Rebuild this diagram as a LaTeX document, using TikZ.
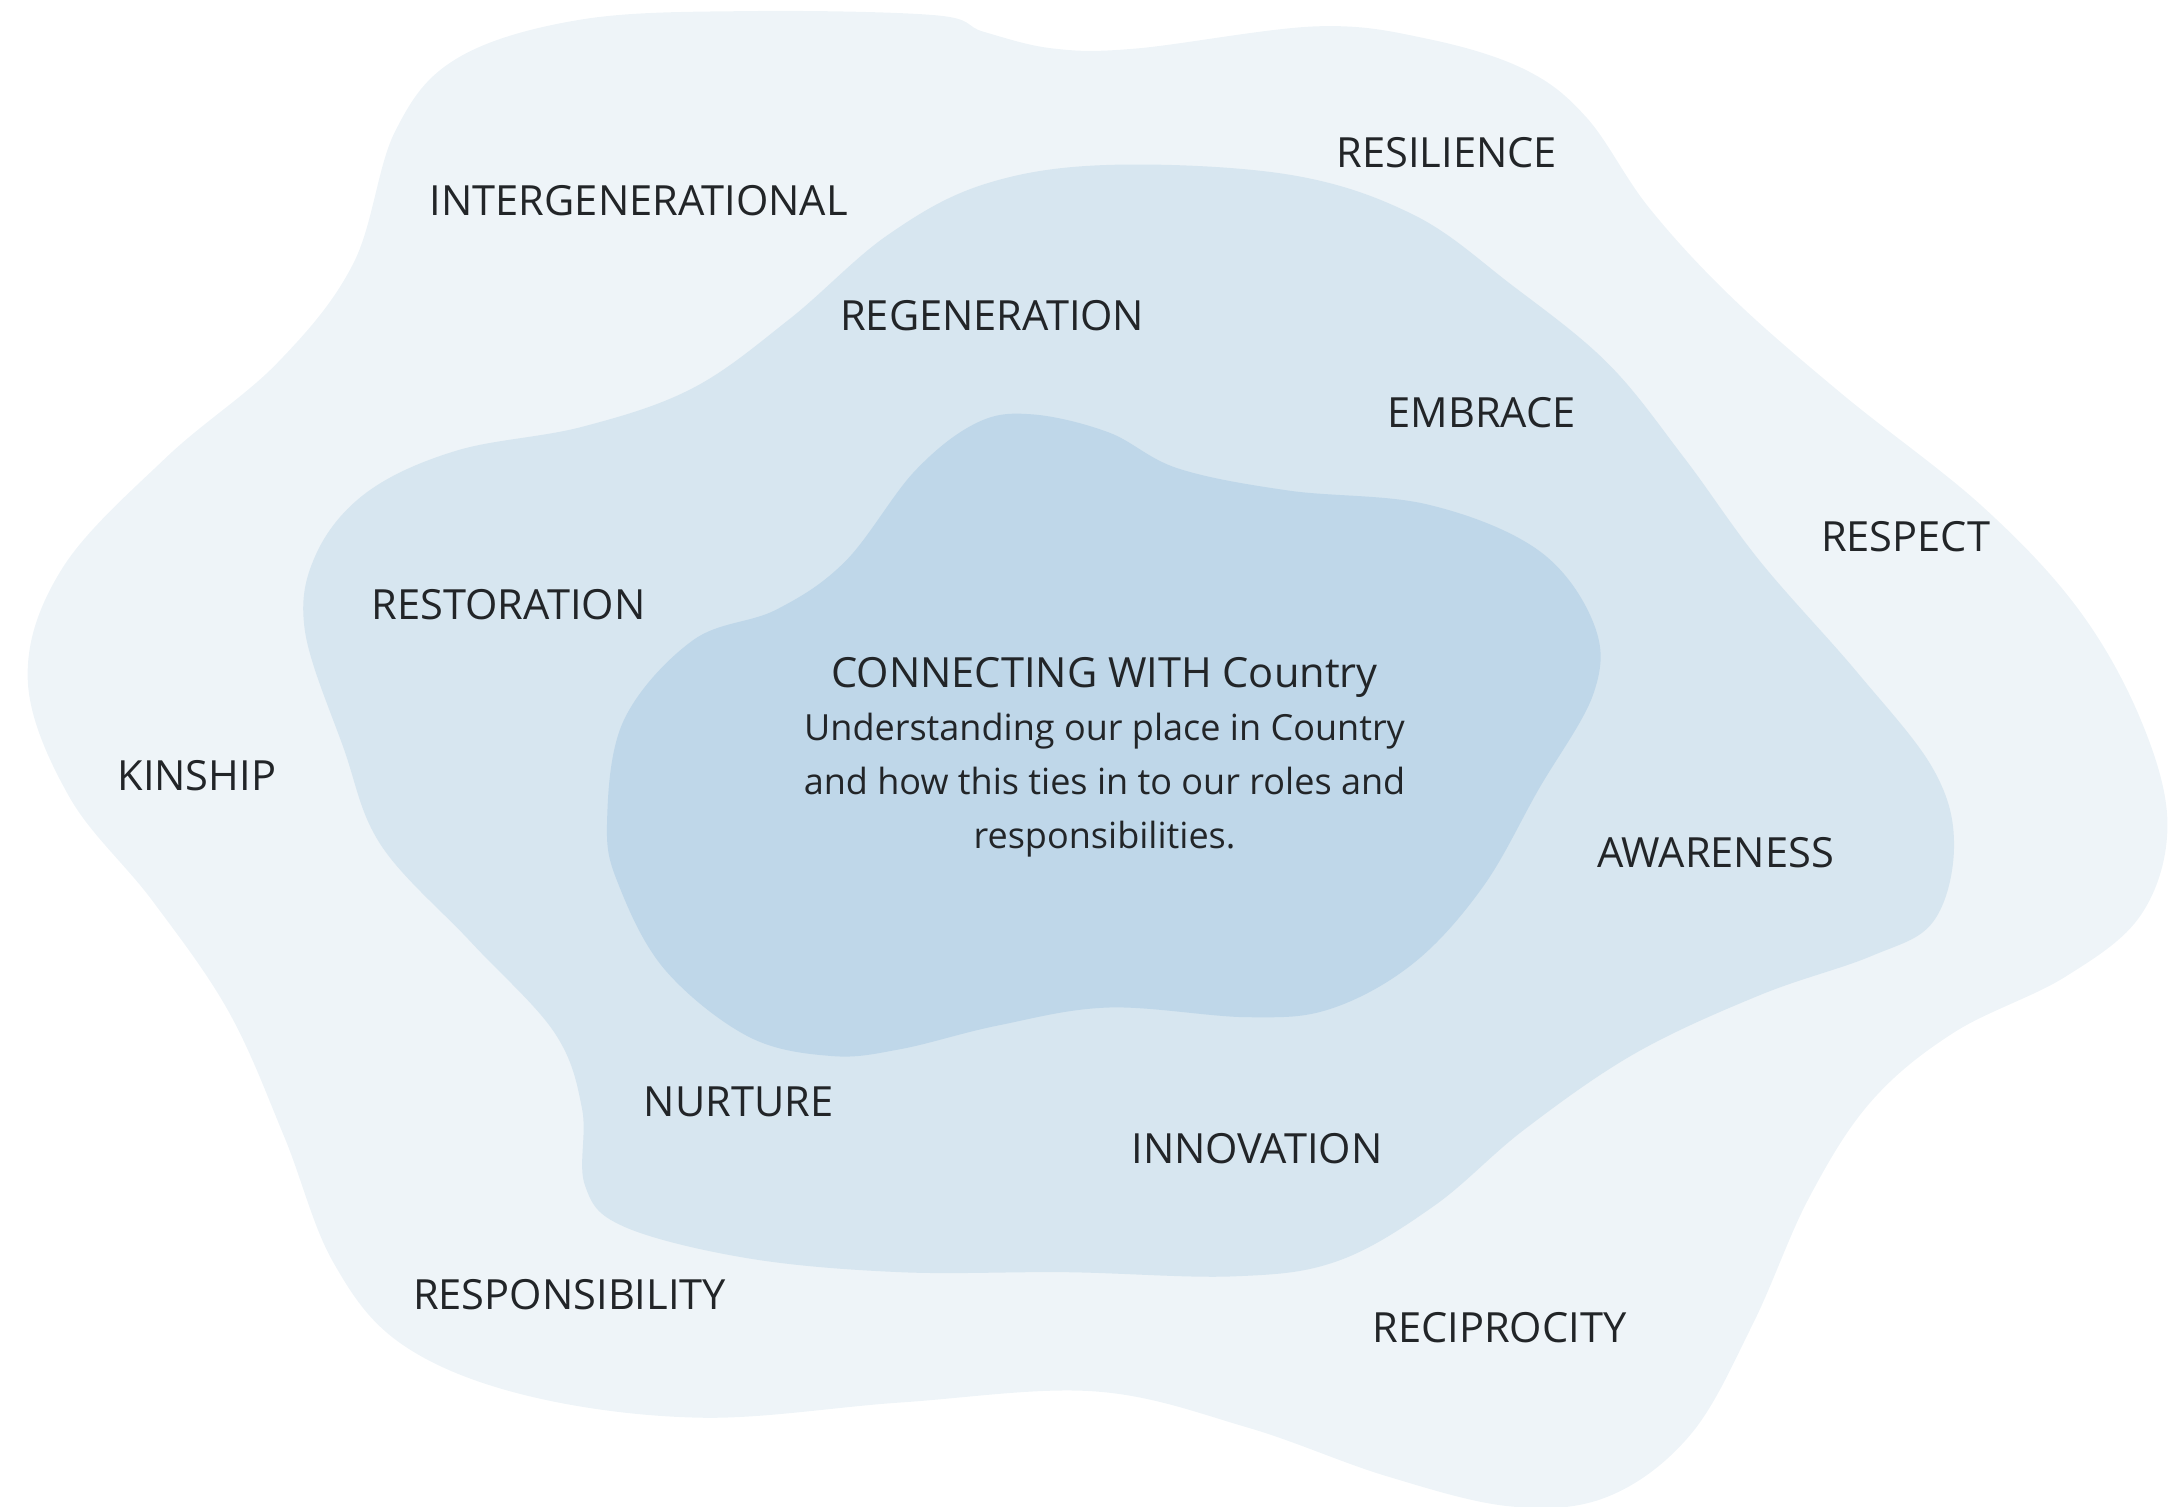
\documentclass[tikz,border=0pt]{standalone}
\usepackage{fontspec}
\setmainfont{Open Sans}
\usepackage{tikz}

\definecolor{outerblue}{RGB}{238,244,248}
\definecolor{midblue}{RGB}{215,230,240}
\definecolor{innerblue}{RGB}{191,215,233}
\definecolor{labelgrey}{RGB}{34,37,40}

\tikzset{
  value/.style={inner sep=0.75pt, text=labelgrey, font=\fontsize{12}{14}\selectfont},
}

\begin{document}
\begin{tikzpicture}[x=0.4pt,y=0.4pt,yscale=-1,xscale=1]
\useasboundingbox (0,0) rectangle (1568,1087);

%Shape: Outer blob
\fill [outerblue] plot [smooth cycle, tension=0.6] coordinates {(20,490) (45,410) (120,330) (200,262) (255,190) (285,95) (330,42) (420,14) (540,8) (675,11) (710,23) (760,35) (820,35) (950,19) (1030,28) (1100,50) (1145,85) (1190,150) (1250,215) (1330,285) (1430,365) (1500,440) (1545,520) (1564,595) (1545,660) (1490,705) (1410,745) (1350,795) (1305,865) (1265,955) (1220,1035) (1160,1080) (1090,1087) (1000,1065) (900,1030) (790,1004) (650,1012) (506,1023) (380,1007) (290,970) (240,910) (205,820) (165,730) (110,650) (50,575)};

%Shape: Middle blob
\fill [midblue] plot [smooth cycle, tension=0.6] coordinates {(220,455) (228,400) (265,355) (330,325) (420,308) (500,280) (570,230) (640,170) (710,133) (800,119) (930,126) (1020,155) (1090,205) (1160,262) (1215,330) (1270,405) (1340,485) (1395,555) (1410,610) (1395,665) (1350,690) (1270,718) (1180,760) (1100,815) (1035,870) (965,910) (890,921) (770,918) (650,918) (540,908) (450,885) (422,855) (420,800) (400,745) (340,680) (275,610) (248,540)};

%Shape: Inner blob
\fill [innerblue] plot [smooth cycle, tension=0.6] coordinates {(438,595) (450,520) (500,462) (560,440) (610,405) (660,340) (705,305) (745,299) (800,312) (850,338) (930,354) (1030,364) (1110,397) (1150,450) (1150,500) (1110,570) (1070,640) (1020,695) (960,728) (900,734) (800,727) (720,740) (650,757) (600,762) (540,748) (480,700) (447,640)};

% Centre text
\node [value, anchor=base] (title) at (797,496) {CONNECTING WITH Country};
\node [value, anchor=north, align=center, font=\fontsize{10.4}{15.6}\selectfont] (about) at (797,512) {Understanding our place in Country\\and how this ties in to our roles and\\responsibilities.};

% Text Node
\node [value] (intergen) at (461,145) {INTERGENERATIONAL};
% Text Node
\node [value] (resilience) at (1044,110) {RESILIENCE};
% Text Node
\node [value] (regeneration) at (716,228) {REGENERATION};
% Text Node
\node [value] (embrace) at (1069,298) {EMBRACE};
% Text Node
\node [value] (respect) at (1375,387) {RESPECT};
% Text Node
\node [value] (restoration) at (367,436) {RESTORATION};
% Text Node
\node [value] (kinship) at (142,560) {KINSHIP};
% Text Node
\node [value] (awareness) at (1238,615) {AWARENESS};
% Text Node
\node [value] (nurture) at (533,795) {NURTURE};
% Text Node
\node [value] (innovation) at (907,829) {INNOVATION};
% Text Node
\node [value] (responsibility) at (411,934) {RESPONSIBILITY};
% Text Node
\node [value] (reciprocity) at (1082,958) {RECIPROCITY};

\end{tikzpicture}
\end{document}
